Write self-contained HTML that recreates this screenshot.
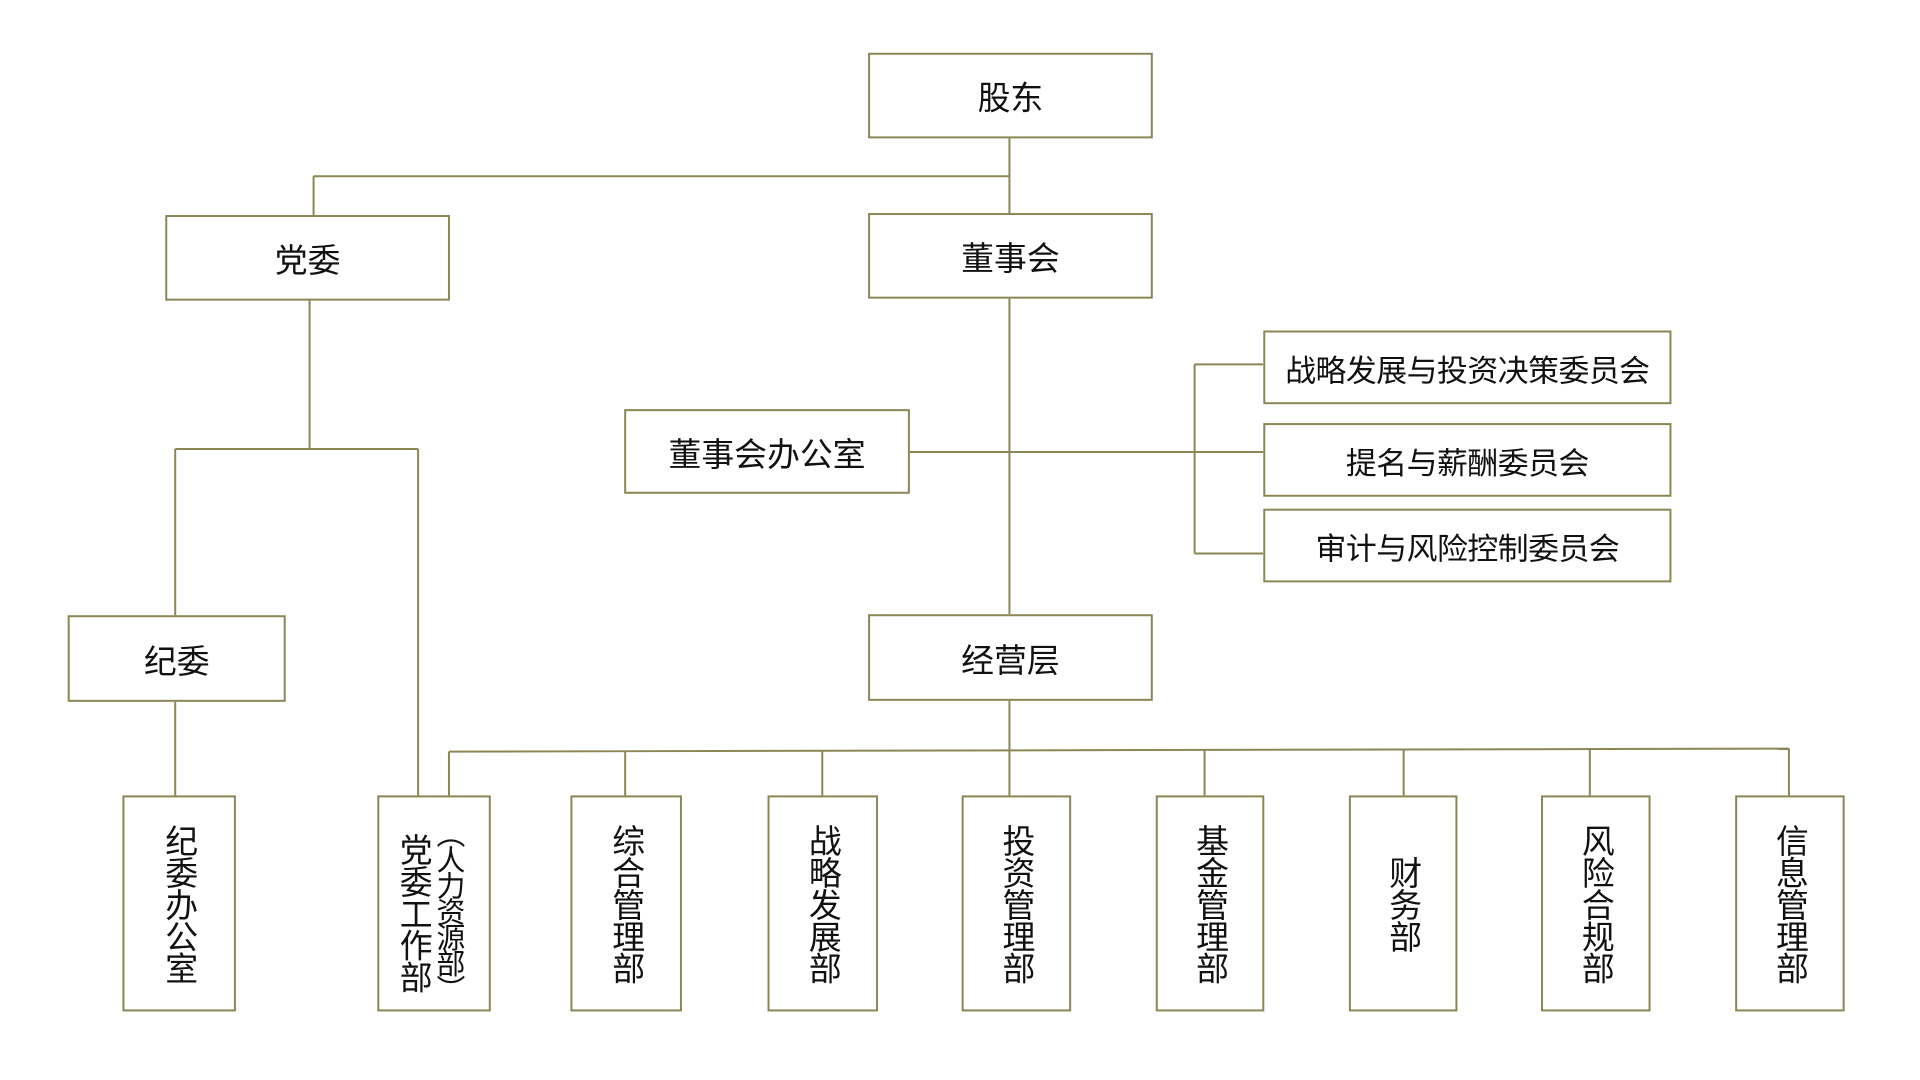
<!DOCTYPE html>
<html><head><meta charset="utf-8"><style>
html,body{margin:0;padding:0;background:#fff;}
body{width:1920px;height:1080px;position:relative;overflow:hidden;font-family:"Liberation Sans","Noto Sans CJK SC",sans-serif;color:#111;}
#w{position:absolute;left:0;top:0;width:1920px;height:1080px;transform:scale(0.9955);transform-origin:0 0;}
.b{position:absolute;box-sizing:border-box;border:2px solid #8b8654;background:#fff;display:flex;align-items:center;justify-content:center;font-size:33px;}
.v{writing-mode:vertical-rl;font-size:33px;line-height:1;letter-spacing:-1px;}
.c{font-size:31px;letter-spacing:-0.5px;}
svg{position:absolute;left:0;top:0;}
</style></head><body><div id="w">
<svg width="1920" height="1080"><g stroke="#8b8654" stroke-width="2" fill="none">
<line x1="1014" y1="139" x2="1014" y2="214"/>
<line x1="315" y1="177" x2="1014" y2="177"/>
<line x1="315" y1="177" x2="315" y2="216"/>
<line x1="1014" y1="299" x2="1014" y2="617"/>
<line x1="913" y1="454" x2="1269" y2="454"/>
<line x1="1200" y1="366" x2="1200" y2="556"/>
<line x1="1200" y1="366" x2="1269" y2="366"/>
<line x1="1200" y1="556" x2="1269" y2="556"/>
<line x1="311" y1="301" x2="311" y2="451"/>
<line x1="176" y1="451" x2="420" y2="451"/>
<line x1="176" y1="451" x2="176" y2="619"/>
<line x1="420" y1="451" x2="420" y2="800"/>
<line x1="176" y1="704" x2="176" y2="800"/>
<line x1="1014" y1="703" x2="1014" y2="800"/>
<line x1="451" y1="755" x2="1797" y2="752"/>
<line x1="451" y1="755" x2="451" y2="800"/>
<line x1="628" y1="755" x2="628" y2="800"/>
<line x1="826" y1="754" x2="826" y2="800"/>
<line x1="1210" y1="753" x2="1210" y2="800"/>
<line x1="1410" y1="753" x2="1410" y2="800"/>
<line x1="1597" y1="752" x2="1597" y2="800"/>
<line x1="1797" y1="752" x2="1797" y2="800"/>
</g></svg>
<div class="b" style="left:872px;top:53px;width:286px;height:86px">股东</div>
<div class="b" style="left:166px;top:216px;width:286px;height:86px">党委</div>
<div class="b" style="left:872px;top:214px;width:286px;height:86px">董事会</div>
<div class="b" style="left:627px;top:411px;width:287px;height:85px">董事会办公室</div>
<div class="b c" style="left:1269px;top:332px;width:410px;height:74px">战略发展与投资决策委员会</div>
<div class="b c" style="left:1269px;top:425px;width:410px;height:74px">提名与薪酬委员会</div>
<div class="b c" style="left:1269px;top:511px;width:410px;height:74px">审计与风险控制委员会</div>
<div class="b" style="left:68px;top:618px;width:219px;height:87px">纪委</div>
<div class="b" style="left:872px;top:617px;width:286px;height:87px">经营层</div>
<div class="b" style="left:123px;top:799px;width:114px;height:217px"><span class="v">纪委办公室</span></div>
<div class="b" style="left:379px;top:799px;width:114px;height:217px">
<span class="v" style="position:absolute;left:18px;top:36px">党委工作部</span>
<span class="v" style="position:absolute;left:54px;top:22px;font-size:29px;letter-spacing:-3px">（人力资源部）</span></div>
<div class="b" style="left:573px;top:799px;width:112px;height:217px"><span class="v">综合管理部</span></div>
<div class="b" style="left:771px;top:799px;width:111px;height:217px"><span class="v">战略发展部</span></div>
<div class="b" style="left:966px;top:799px;width:110px;height:217px"><span class="v">投资管理部</span></div>
<div class="b" style="left:1161px;top:799px;width:109px;height:217px"><span class="v">基金管理部</span></div>
<div class="b" style="left:1355px;top:799px;width:109px;height:217px"><span class="v">财务部</span></div>
<div class="b" style="left:1548px;top:799px;width:110px;height:217px"><span class="v">风险合规部</span></div>
<div class="b" style="left:1743px;top:799px;width:110px;height:217px"><span class="v">信息管理部</span></div>
</div></body></html>
